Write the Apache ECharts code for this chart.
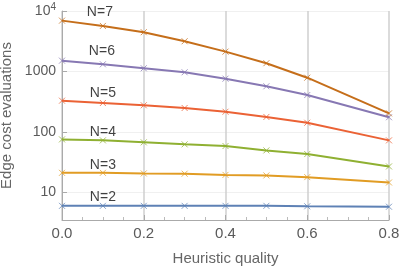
<!DOCTYPE html>
<html>
<head>
<meta charset="utf-8">
<script src="https://cdn.jsdelivr.net/npm/echarts@6/dist/echarts.min.js"></script>
<style>
html,body{margin:0;padding:0;background:#fff;}
#chart{width:399px;height:267px;}
</style>
</head>
<body>
<div id="chart"></div>
<script>
// Heuristic quality values (x)
const quality = [0, 0.1, 0.2, 0.3, 0.4, 0.5, 0.6, 0.8];
// Edge cost evaluations per N
const seriesNames = ['N=2', 'N=3', 'N=4', 'N=5', 'N=6', 'N=7'];
const n2 = [6.0, 6.0, 6.0, 6.0, 6.0, 6.0, 5.9, 5.8];
const n3 = [21.1, 21.1, 20.6, 20.4, 19.5, 19.1, 17.9, 14.6];
const n4 = [75.3, 72.6, 67.3, 62.4, 58.5, 49.5, 43.1, 26.9];
const n5 = [329, 301, 276, 249, 216, 177, 142, 72.6];
const n6 = [1510, 1315, 1130, 970, 760, 569, 408, 175];
const n7 = [6930, 5660, 4460, 3160, 2130, 1370, 789, 203];
const allValues = [n2, n3, n4, n5, n6, n7];

const colors = ['#5E81B5', '#E19C24', '#8FB032', '#EB6235', '#8778B3', '#C56E1A'];
const labelOffset = [[0, 2], [0, 3], [0, 2], [0, 1], [-1, -3], [-3, -3]];

const crossPath = 'path://M0,0L10,10M10,0L0,10';

const series = allValues.map((vals, s) => ({
  name: seriesNames[s],
  type: 'line',
  data: vals.map((v, i) => {
    const item = { value: [quality[i], v] };
    if (i === 1) {
      item.label = {
        show: true,
        position: 'top',
        distance: 0,
        offset: labelOffset[s],
        formatter: seriesNames[s],
        color: '#000',
        fontSize: 14,
        fontFamily: 'Liberation Sans, Arial, sans-serif'
      };
    }
    return item;
  }),
  symbol: crossPath,
  symbolSize: 6,
  showAllSymbol: true,
  itemStyle: { color: colors[s], borderColor: colors[s], borderWidth: 1, opacity: 0.75 },
  lineStyle: { color: colors[s], width: 2 },
  emphasis: { disabled: true },
  animation: false,
  z: 3
}));

const chart = echarts.init(document.getElementById('chart'), null, { renderer: 'canvas' });
chart.setOption({
  backgroundColor: '#fff',
  animation: false,
  grid: { left: 62, right: 10, top: 11, bottom: 47, containLabel: false, outerBoundsMode: 'none' },
  xAxis: {
    type: 'value',
    min: 0,
    max: 0.8,
    interval: 0.2,
    name: 'Heuristic quality',
    nameLocation: 'middle',
    nameGap: 31,
    nameTextStyle: { color: '#666', fontSize: 15, fontFamily: 'Liberation Sans, Arial, sans-serif' },
    axisLine: { show: true, lineStyle: { color: '#aaa', width: 1 } },
    axisTick: { show: true, inside: true, length: 5, lineStyle: { color: '#aaa' } },
    minorTick: { show: true, splitNumber: 4, length: 3, lineStyle: { color: '#bbb' } },
    axisLabel: {
      color: '#5a5a5a', fontSize: 15, margin: 6,
      fontFamily: 'Liberation Sans, Arial, sans-serif',
      formatter: v => v.toFixed(1)
    },
    splitLine: { show: true, lineStyle: { color: '#cfcfcf', width: 1.5 } }
  },
  yAxis: {
    type: 'log',
    logBase: 10,
    min: 3.5,
    max: 10000,
    name: 'Edge cost evaluations',
    nameLocation: 'middle',
    nameGap: 45,
    nameTextStyle: { color: '#666', fontSize: 15, fontFamily: 'Liberation Sans, Arial, sans-serif' },
    axisLine: { show: true, lineStyle: { color: '#aaa', width: 1 } },
    axisTick: { show: true, inside: true, length: 5, lineStyle: { color: '#aaa' } },
    axisLabel: {
      showMinLabel: false,
      color: '#5a5a5a', fontSize: 14, margin: 6,
      fontFamily: 'Liberation Sans, Arial, sans-serif',
      formatter: v => {
        const r = Math.round(v);
        if (r === 10000) return '10{sup|4}';
        return String(r);
      },
      rich: {
        sup: { fontSize: 10, color: '#5a5a5a', verticalAlign: 'bottom', padding: [0, 0, 8, 0], fontFamily: 'Liberation Sans, Arial, sans-serif' }
      }
    },
    splitLine: { show: true, lineStyle: { color: '#f0f0f0', width: 1 } }
  },
  series: series
});
</script>
</body>
</html>
